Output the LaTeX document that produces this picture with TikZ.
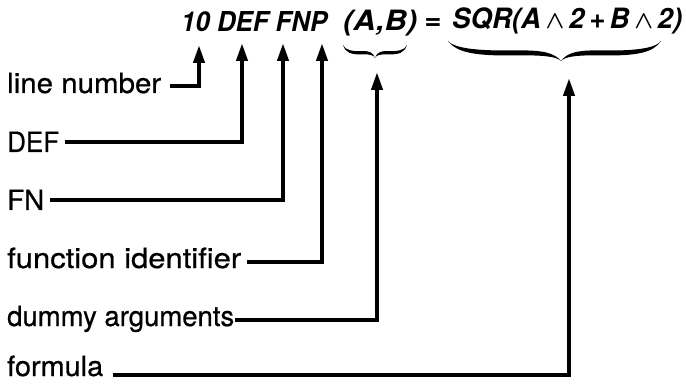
\documentclass[tikz,border=0pt]{standalone}
\usepackage{fontspec}
\setmainfont{TeX Gyre Heros}
\newfontfamily\lblfont{TeX Gyre Heros}[FakeBold=0.6]
\usepackage{graphicx}
\usetikzlibrary{arrows.meta}
\newcommand{\fitw}[2]{\resizebox{#1}{\height}{#2}}
\newcommand{\fitwh}[3]{\resizebox{#1}{#2}{#3}}
\newcommand{\wdg}{{\boldmath$\wedge$}}
% calligraphic half brace: end x, centre x, top y, amplitude
\newcommand{\halfbrace}[4]{%
 \fill ({#1},{#3}) .. controls ({#1+0.08*(#2-#1)},{#3+0.6*#4}) and ({#1+0.25*(#2-#1)},{#3+0.75*#4}) .. ({#1+0.6*(#2-#1)},{#3+0.72*#4})
   .. controls ({#1+0.85*(#2-#1)},{#3+0.7*#4}) and ({#2-0.04*(#2-#1)},{#3+0.78*#4}) .. ({#2},{#3+#4})
   .. controls ({#2-0.06*(#2-#1)},{#3+0.6*#4}) and ({#1+0.85*(#2-#1)},{#3+0.45*#4}) .. ({#1+0.6*(#2-#1)},{#3+0.47*#4})
   .. controls ({#1+0.3*(#2-#1)},{#3+0.5*#4}) and ({#1+0.06*(#2-#1)},{#3+0.4*#4}) .. ({#1},{#3}) -- cycle;}
\begin{document}
\begin{tikzpicture}[x={(1pt,0)},y={(0,-1pt)},
  lbl/.style={anchor=base west,inner sep=0pt,font=\fontsize{28}{30}\lblfont},
  top/.style={anchor=base west,inner sep=0pt,font=\fontsize{28}{30}\selectfont\bfseries\itshape},
  conn/.style={line width=4pt,line join=miter,-{Triangle[length=18pt,width=11pt]}}]
\useasboundingbox (0,0) rectangle (686,385);
% top formula
\node[top] (tdef) at (181,32) {\fitwh{146pt}{20pt}{10 DEF FNP}};
\node[top] (tab)  at (343,31) {\fitw{74pt}{(A,B)}};
\node[top] (teq)  at (424,30) {\fitw{17pt}{=}};
\node[top] (tsqr) at (452,29) {\fitw{230pt}{SQR(A\,\wdg\,2\,+\,B\,\wdg\,2)}};
% braces
\halfbrace{343}{375}{45}{13}
\halfbrace{407}{375}{45}{13}
\halfbrace{448}{561}{41}{20}
\halfbrace{661}{561}{41}{20}
% labels
\node[lbl] (lnum) at (7,93)  {\fitw{154pt}{line number}};
\node[lbl] (ldef) at (7,152) {\fitw{52pt}{DEF}};
\node[lbl] (lfn)  at (7,210) {\fitw{37pt}{FN}};
\node[lbl] (lfid) at (7,268) {\fitw{234pt}{function identifier}};
\node[lbl] (ldum) at (7,326) {\fitw{227pt}{dummy arguments}};
\node[lbl] (lfor) at (7,376) {\fitw{96pt}{formula}};
% corners and tips
\coordinate (c1) at (199,86);  \coordinate (a1) at (199,45);
\coordinate (c2) at (242,142); \coordinate (a2) at (242,43);
\coordinate (c3) at (283,200); \coordinate (a3) at (283,43);
\coordinate (c4) at (322,262); \coordinate (a4) at (322,43);
\coordinate (c5) at (377,320); \coordinate (a5) at (377,72);
\coordinate (c6) at (569,375); \coordinate (a6) at (569,78);
% connectors
\draw[conn] ([xshift=9pt]lnum.east |- c1) -- (c1) -- (a1);
\draw[conn] ([xshift=6pt]ldef.east |- c2) -- (c2) -- (a2);
\draw[conn] ([xshift=6pt]lfn.east |- c3) -- (c3) -- (a3);
\draw[conn] ([xshift=6pt]lfid.east |- c4) -- (c4) -- (a4);
\draw[conn] ([xshift=1pt]ldum.east |- c5) -- (c5) -- (a5);
\draw[conn] ([xshift=10pt]lfor.east |- c6) -- (c6) -- (a6);
\end{tikzpicture}
\end{document}
